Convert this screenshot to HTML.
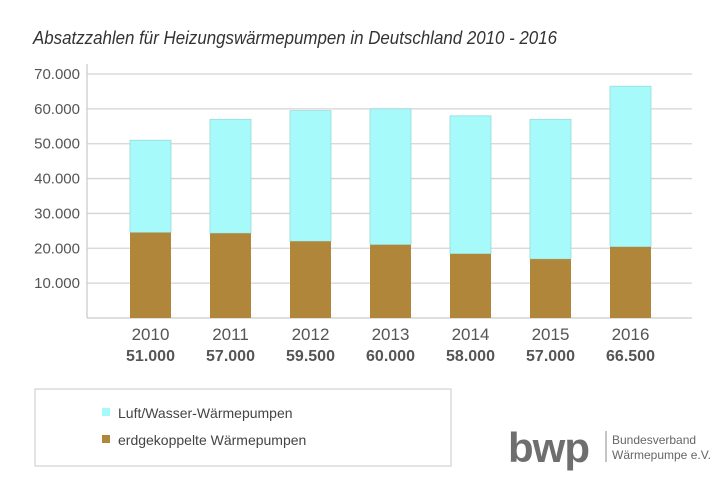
<!DOCTYPE html>
<html><head><meta charset="utf-8">
<style>
html,body{margin:0;padding:0;background:#fff;}
body{width:728px;height:491px;overflow:hidden;font-family:"Liberation Sans",sans-serif;}
</style></head>
<body>
<svg id="chart" width="728" height="491" xmlns="http://www.w3.org/2000/svg">
  <text x="33" y="44" font-size="18" font-style="italic" fill="#333" textLength="524" lengthAdjust="spacingAndGlyphs">Absatzzahlen für Heizungswärmepumpen in Deutschland 2010 - 2016</text>
  <g id="grid"></g>
  <g id="bars"></g>
  <g id="labels"></g>
  <rect x="35" y="389" width="416" height="77" fill="#fff" stroke="#c8c8c8" stroke-width="1"/>
  <rect x="102" y="408" width="8" height="8" fill="#a6fafa"/>
  <text x="118" y="418" font-size="14" fill="#444">Luft/Wasser-Wärmepumpen</text>
  <rect x="102" y="435" width="8" height="8" fill="#b0863a"/>
  <text x="118" y="445" font-size="14" fill="#444">erdgekoppelte Wärmepumpen</text>
  <g>
    <text x="508" y="462" font-size="42" font-weight="bold" fill="#6e6e6e" letter-spacing="-1">bwp</text>
    <line x1="606" y1="431" x2="606" y2="462" stroke="#888" stroke-width="1"/>
    <text x="612" y="444" font-size="12" fill="#666">Bundesverband</text>
    <text x="612" y="459" font-size="12" fill="#666">Wärmepumpe e.V.</text>
  </g>
</svg>
<script>
const years = ["2010","2011","2012","2013","2014","2015","2016"];
const totals = [51000,57000,59500,60000,58000,57000,66500];
const ground = [24500,24300,22000,21000,18400,16900,20400];
const totalLabels = ["51.000","57.000","59.500","60.000","58.000","57.000","66.500"];
const ticks = [10000,20000,30000,40000,50000,60000,70000];
const tickLabels = ["10.000","20.000","30.000","40.000","50.000","60.000","70.000"];

const NS="http://www.w3.org/2000/svg";
const x0=87, x1=692, yBase=318, yTop=74, vMax=70000;
const y = v => yBase - (v/vMax)*(yBase-yTop);
const xc = i => 150.5 + i*80;
const bw = 41;
function mk(tag, attrs, parent){const e=document.createElementNS(NS,tag);for(const k in attrs)e.setAttribute(k,attrs[k]);parent.appendChild(e);return e;}
const grid=document.getElementById('grid'), bars=document.getElementById('bars'), labels=document.getElementById('labels');

ticks.forEach((t,i)=>{
  const l=mk('line',{x1:x0,x2:x1,y1:y(t),y2:y(t),stroke:'#d4d4d4','stroke-width':1.3},grid);
  
  
  const tx=mk('text',{x:80,y:y(t)+5,'font-size':15,fill:'#555','text-anchor':'end'},grid);
  tx.textContent=tickLabels[i];
  
  
});
const ax=mk('line',{x1:x0,x2:x0,y1:64,y2:yBase,stroke:'#ccc','stroke-width':1.3},grid);


const bx=mk('line',{x1:x0,x2:x1,y1:yBase,y2:yBase,stroke:'#ccc','stroke-width':1.3},grid);



years.forEach((yr,i)=>{
  const g=ground[i], tot=totals[i];
  const r1=mk('rect',{x:xc(i)-bw/2,y:y(tot),width:bw,height:y(g)-y(tot),fill:'#a6fafa',stroke:'#9adada','stroke-width':0.8},bars);
  
  
  const r2=mk('rect',{x:xc(i)-bw/2,y:y(g),width:bw,height:yBase-y(g),fill:'#b0863a'},bars);
  
  
  const t1=mk('text',{x:xc(i),y:340,'font-size':17,fill:'#555','text-anchor':'middle'},labels);
  t1.textContent=yr;
  
  
  const t2=mk('text',{x:xc(i),y:361,'font-size':16,'font-weight':'bold',fill:'#555','text-anchor':'middle'},labels);
  t2.textContent=totalLabels[i];
  
  
});
</script>
</body></html>
